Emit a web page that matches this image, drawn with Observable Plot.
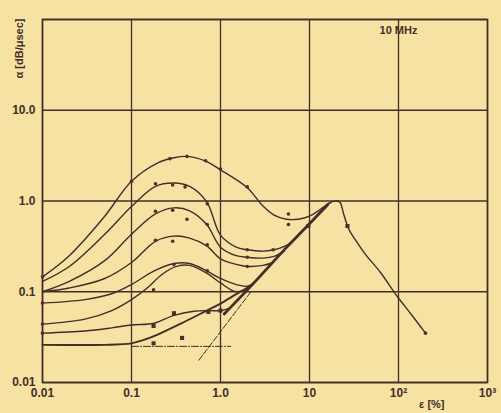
<!DOCTYPE html>
<html><head><meta charset="utf-8">
<script src="https://cdn.jsdelivr.net/npm/d3@7"></script>
<script src="https://cdn.jsdelivr.net/npm/@observablehq/plot@0.6"></script>
<style>
html,body{margin:0;padding:0;background:#f6e3a3;}
#chart{width:501px;height:413px;overflow:hidden;}
svg{display:block;}
</style></head><body><div id="chart"></div>
<script>
// Axis ticks
const xTicks=[0.01,0.1,1,10,100,1000];
const xTickLabels=["0.01","0.1","1.0","10","10\u00B2","10\u00B3"];
const yTicks=[0.01,0.1,1,10,100];
const yTickLabels=["0.01","0.1","1.0","10.0",""];

// Curves (strain %, attenuation dB/µsec)
const aX=[0.01,0.02,0.05,0.1,0.2,0.3,0.42,0.68,1,2,3,4,5.5,7.5,10,13,16.5];
const aY=[0.146,0.25,0.68,1.65,2.65,3.0,3.1,2.75,2.2,1.4,0.88,0.7,0.63,0.63,0.68,0.8,0.95];
const bX=[0.01,0.02,0.05,0.1,0.186,0.3,0.45,0.7,1,1.5,2,3,4,5,6.2];
const bY=[0.13,0.19,0.43,0.87,1.45,1.58,1.45,0.98,0.42,0.31,0.29,0.28,0.29,0.31,0.345];
const cX=[0.01,0.02,0.05,0.1,0.186,0.3,0.45,0.7,1,1.5,2,3,4,5.2];
const cY=[0.1,0.13,0.22,0.43,0.72,0.84,0.78,0.55,0.31,0.25,0.24,0.235,0.245,0.28];
const dX=[0.01,0.02,0.05,0.1,0.186,0.3,0.45,0.7,1,1.5,2,3,3.9];
const dY=[0.1,0.11,0.14,0.21,0.36,0.41,0.39,0.32,0.23,0.2,0.19,0.195,0.21];
const eX=[0.01,0.03,0.06,0.1,0.18,0.3,0.45,0.7,1,1.5,2,2.5];
const eY=[0.075,0.082,0.095,0.12,0.17,0.205,0.205,0.17,0.14,0.12,0.115,0.13];
const fX=[0.01,0.03,0.06,0.1,0.15,0.22,0.32,0.45,0.7,1,1.5,2.1];
const fY=[0.044,0.05,0.062,0.082,0.11,0.155,0.19,0.195,0.16,0.125,0.1,0.11];
const gX=[0.01,0.03,0.06,0.1,0.18,0.3,0.5,0.75,1,1.3];
const gY=[0.035,0.037,0.04,0.043,0.045,0.055,0.061,0.062,0.062,0.067];
const hX=[0.01,0.05,0.1,0.13,0.2,0.4,0.7,1,1.5,2.2];
const hY=[0.026,0.026,0.027,0.029,0.034,0.047,0.062,0.074,0.094,0.117];
// common envelope and high-strain branch
const envX=[1.1,2.17,5.66,10.3,16];
const envY=[0.057,0.114,0.316,0.58,0.91];
const tailX=[10.3,16,18.5,20.5,22.3,24.2,26.7,33,40.5,62.8,97.5,136,201];
const tailY=[0.58,0.91,0.99,1.0,0.95,0.72,0.53,0.37,0.275,0.163,0.088,0.058,0.035];
// auxiliary construction lines
const tangentX=[0.57,2.2];
const tangentY=[0.0176,0.1];
const baseX=[0.1,1.3];
const baseY=[0.025,0.025];

// measured points
const circX=[0.01,0.1,0.27,0.42,0.68,1.0,2.0,5.8,5.8, 0.186,0.29,0.4,0.71,2.0,3.9, 0.186,0.29,0.42,0.71,2.0, 0.186,0.29,0.71,2.0, 0.01,0.3,0.71,0.177, 0.01,0.01,201];
const circY=[0.146,1.65,2.93,3.1,2.78,2.25,1.43,0.72,0.55, 1.55,1.5,1.43,0.93,0.29,0.29, 0.77,0.79,0.63,0.55,0.24, 0.37,0.36,0.33,0.19, 0.075,0.2,0.17,0.105, 0.044,0.035,0.035];
const sqX=[0.177,0.3,0.73,1.0,0.177,0.37,26.7,9.7];
const sqY=[0.042,0.058,0.06,0.062,0.027,0.031,0.53,0.53];

const ink="#432d2b";
const pts=(X,Y)=>X.map((x,i)=>({x,y:Y[i]}));
const ln=(X,Y,o={})=>Plot.line(pts(X,Y),{x:"x",y:"y",curve:"catmull-rom",stroke:ink,strokeWidth:1.4,...o});

const chart=Plot.plot({
  width:501,height:413,
  marginLeft:42,marginRight:14,marginTop:19,marginBottom:31,
  x:{type:"log",domain:[0.01,1000],ticks:xTicks,tickFormat:d=>xTickLabels[xTicks.indexOf(d)],tickSize:0,tickPadding:6,label:null},
  y:{type:"log",domain:[0.01,100],ticks:yTicks,tickFormat:d=>yTickLabels[yTicks.indexOf(d)],tickSize:0,tickPadding:7,label:null},
  style:{background:"transparent",fontFamily:"'Liberation Sans Narrow','Liberation Sans',sans-serif",fontSize:"12px",fontWeight:"bold",color:ink},
  marks:[
    Plot.ruleX(xTicks,{stroke:ink,strokeWidth:1.3}),
    Plot.ruleY(yTicks,{stroke:ink,strokeWidth:1.3}),
    Plot.frame({stroke:ink,strokeWidth:1.6}),
    ln(aX,aY),ln(bX,bY),ln(cX,cY),ln(dX,dY),ln(eX,eY),ln(fX,fY),ln(gX,gY),
    ln(hX,hY,{strokeWidth:1.9}),
    ln(envX,envY,{strokeWidth:2.8}),
    ln(tailX,tailY,{curve:"monotone-x"}),
    Plot.line(pts(tangentX,tangentY),{x:"x",y:"y",stroke:ink,strokeWidth:1,strokeDasharray:"6,2"}),
    Plot.line(pts(baseX,baseY),{x:"x",y:"y",stroke:ink,strokeWidth:1,strokeDasharray:"7,2,1,2"}),
    Plot.dot(pts(circX,circY),{x:"x",y:"y",r:1.8,fill:"#5a2a2a",stroke:"none"}),
    Plot.dot(pts(sqX,sqY),{x:"x",y:"y",r:2.3,symbol:"square",fill:"#4a2c2c",stroke:"none"}),
    Plot.text(["10 MHz"],{x:100,y:75,text:d=>d,fontSize:11,fontWeight:"bold",fill:ink}),
    Plot.text(["\u03B1 [dB/\u03BCsec]"],{frameAnchor:"top-left",dx:-23,dy:29,rotate:-90,textAnchor:"middle",lineAnchor:"middle",text:d=>d,fontSize:11,fontWeight:"bold",fill:ink}),
    Plot.text(["\u03B5 [%]"],{frameAnchor:"bottom-right",dx:-43,dy:25,text:d=>d,fontSize:11,fontWeight:"bold",fill:ink})
  ]
});
document.getElementById("chart").appendChild(chart);
</script></body></html>
